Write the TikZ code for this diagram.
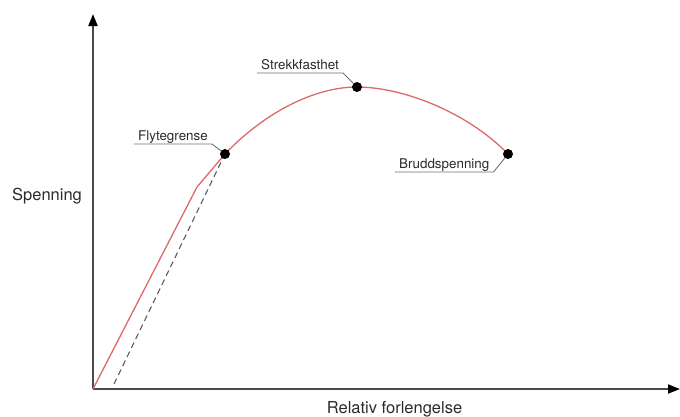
\documentclass[tikz,border=0pt]{standalone}
\usepackage{fontspec}
\setmainfont{TeX Gyre Heros}
\usepackage{tikz}
\usetikzlibrary{arrows.meta,positioning}
\definecolor{kurvefarge}{HTML}{DC6A68}
\definecolor{aksefarge}{HTML}{4A4A4A}
\definecolor{tekst}{HTML}{2B2B2B}
\definecolor{strek}{HTML}{6E6E6E}
\tikzset{
  akse/.style={draw=aksefarge,line width=1.8pt,-{Triangle[length=12pt,width=9pt,color=black]}},
  kurve/.style={draw=kurvefarge,line width=1.3pt,line join=round},
  stiplet/.style={draw=aksefarge!90,line width=1.1pt,dash pattern=on 6pt off 4pt},
  punkt/.style={circle,fill=black,inner sep=0pt,minimum size=10pt},
  etikett/.style={font=\fontsize{13.4}{16}\selectfont,text=tekst,anchor=south west,inner xsep=4pt,inner ysep=1pt,text depth=0.25em},
  aksetekst/.style={font=\fontsize{16.5}{19}\selectfont,text=tekst,inner sep=0pt},
  leder/.style={draw=strek,line width=0.9pt},
}
\begin{document}
\begin{tikzpicture}[x=1pt,y=-1pt]
\useasboundingbox (0,0) rectangle (680,416);
% akser
\coordinate (o) at (93,389);
\coordinate (ytopp) at (93,14);
\coordinate (xende) at (680,389);
\draw[akse] (o) -- (ytopp);
\draw[akse] (o) -- (xende);
\node[aksetekst,anchor=base west] (spenning) at (12,200) {Spenning};
\node[aksetekst,anchor=base] (forlengelse) at (394.5,413) {Relativ forlengelse};
% kurven
\coordinate (knekk) at (197,187);
\coordinate (avlast) at (114,384);
\coordinate (cflyt) at (225,154);
\coordinate (cstrekk) at (357,87);
\coordinate (cbrudd) at (508,154);
\draw[kurve] (o) -- (knekk) -- (cflyt)
  .. controls (265,112) and (315,87) .. (cstrekk)
  .. controls (400,87) and (465,110) .. (cbrudd);
\draw[stiplet] (avlast) -- (cflyt);
% punkter
\node[punkt] (flyt) at (cflyt) {};
\node[punkt] (strekk) at (cstrekk) {};
\node[punkt] (brudd) at (cbrudd) {};
% etiketter
\node[etikett] (flytlbl) at (134,144) {Flytegrense};
\node[etikett] (strekklbl) at (257,73) {Strekkfasthet};
\node[etikett] (bruddlbl) at (395,172) {Bruddspenning};
\draw[leder] (flytlbl.south west) -- (flytlbl.south east) -- (flyt);
\draw[leder] (strekklbl.south west) -- (strekklbl.south east) -- (strekk);
\draw[leder] (bruddlbl.south west) -- (bruddlbl.south east) -- (brudd);
\end{tikzpicture}
\end{document}
